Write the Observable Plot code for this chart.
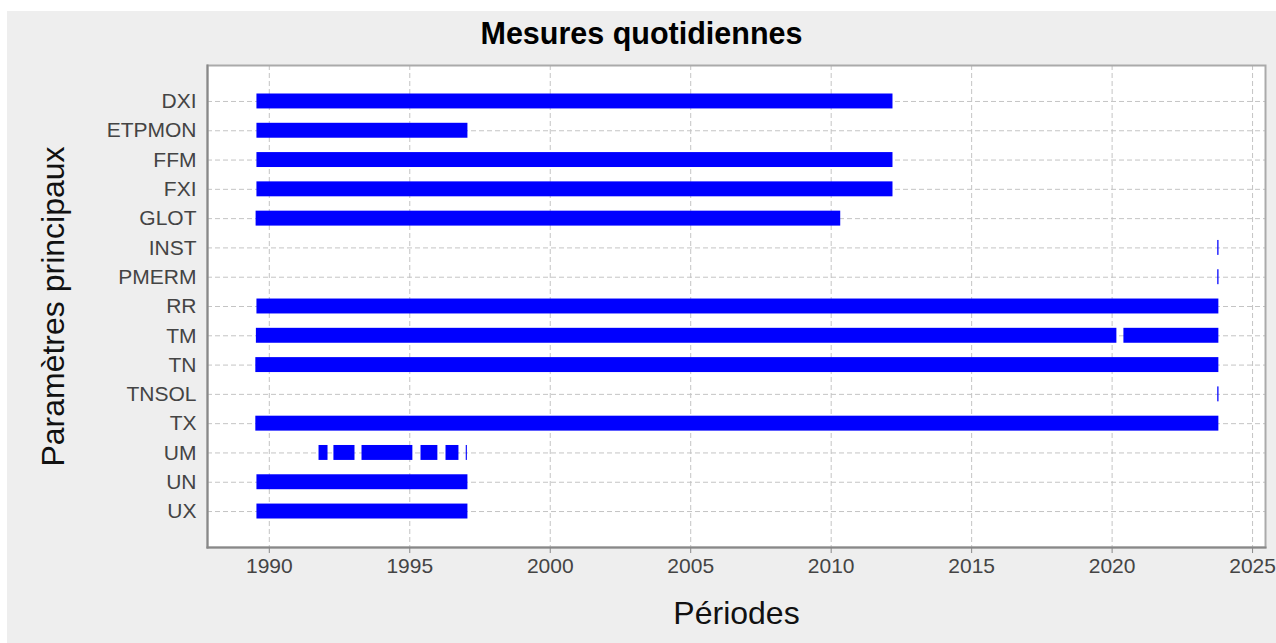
<!DOCTYPE html>
<html>
<head>
<meta charset="utf-8">
<script src="https://cdn.jsdelivr.net/npm/d3@7"></script>
<script src="https://cdn.jsdelivr.net/npm/@observablehq/plot@0.6"></script>
<style>
  html, body { margin: 0; padding: 0; background: #ffffff; }
  body { width: 1276px; height: 643px; position: relative; overflow: hidden; font-family: "Liberation Sans", Arial, sans-serif; }
  #bg { position: absolute; left: 7px; top: 11px; width: 1269px; height: 632px; background: #eeeeee; }
  #title { position: absolute; left: 7px; top: 18px; width: 1269px; text-align: center;
           font: bold 30.5px/30px "Liberation Sans", Arial, sans-serif; color: #000; }
  #chart { position: absolute; left: 7px; top: 55px; }
</style>
</head>
<body>
<div id="bg"></div>
<div id="title">Mesures quotidiennes</div>
<div id="chart"></div>
<script>
// Categories (top to bottom)
const params = ["DXI", "ETPMON", "FFM", "FXI", "GLOT", "INST", "PMERM", "RR", "TM", "TN", "TNSOL", "TX", "UM", "UN", "UX"];

// Measurement periods (decimal years), one entry per segment
const segParam = ["DXI", "ETPMON", "FFM", "FXI", "GLOT", "INST", "PMERM", "RR", "TM", "TM", "TN", "TNSOL", "TX",
                  "UM", "UM", "UM", "UM", "UM", "UM", "UN", "UX"];
const segStart = [1989.56, 1989.56, 1989.56, 1989.56, 1989.53, 2023.76, 2023.76, 1989.56, 1989.54, 2020.42, 1989.52, 2023.76, 1989.52,
                  1991.77, 1992.30, 1993.30, 1995.40, 1996.29, 1997.01, 1989.56, 1989.56];
const segEnd   = [2012.20, 1997.07, 2012.20, 2012.20, 2010.34, 2023.805, 2023.805, 2023.80, 2020.17, 2023.80, 2023.80, 2023.805, 2023.80,
                  1992.09, 1993.05, 1995.11, 1996.00, 1996.75, 1997.05, 1997.07, 1997.07];

// x tick values
const xTicks = [1990, 1995, 2000, 2005, 2010, 2015, 2020, 2025];
const xDomain = [1987.8, 2025.46];

const segments = segParam.map((p, i) => ({param: p, start: segStart[i], end: segEnd[i]}));

const font = "'Liberation Sans', Arial, sans-serif";
const gridStyle = {stroke: "#c4c4c4", strokeOpacity: 1, strokeWidth: 1, strokeDasharray: "5,3"};

const chart = Plot.plot({
  width: 1269,
  height: 588,
  marginLeft: 200,
  marginRight: 11,
  marginTop: 10,
  marginBottom: 96,
  style: {background: "transparent", fontFamily: font, color: "#444"},
  x: {domain: xDomain, label: null},
  y: {type: "band", domain: params, paddingInner: 0.49, paddingOuter: 0.973, round: false, label: null},
  marks: [
    Plot.frame({fill: "white", stroke: "none"}),
    Plot.gridX({ticks: xTicks, ...gridStyle}),
    Plot.gridY({...gridStyle}),
    Plot.barX(segments, {y: "param", x1: "start", x2: "end", fill: "#0000ff"}),
    Plot.frame({stroke: "#aaaaaa", strokeWidth: 2}),
    Plot.frame({anchor: "left", stroke: "#888888", strokeWidth: 2}),
    Plot.frame({anchor: "bottom", stroke: "#888888", strokeWidth: 2}),
    Plot.axisX({ticks: xTicks, tickFormat: d => String(d), tickSize: 6, tickPadding: 5,
                fontSize: 21, fill: "#444", stroke: "#888", label: null}),
    Plot.axisY({tickSize: 0, tickPadding: 11, fontSize: 21, fill: "#444", label: null}),
    Plot.text(["Périodes"], {frameAnchor: "bottom", textAnchor: "middle", lineAnchor: "middle", dy: 66,
                fontSize: 32, fill: "#111", text: d => d}),
    Plot.text(["Paramètres principaux"], {frameAnchor: "left", textAnchor: "middle", lineAnchor: "middle",
                rotate: -90, dx: -154, fontSize: 32, fill: "#111", text: d => d})
  ]
});
document.getElementById("chart").appendChild(chart);
</script>
</body>
</html>
